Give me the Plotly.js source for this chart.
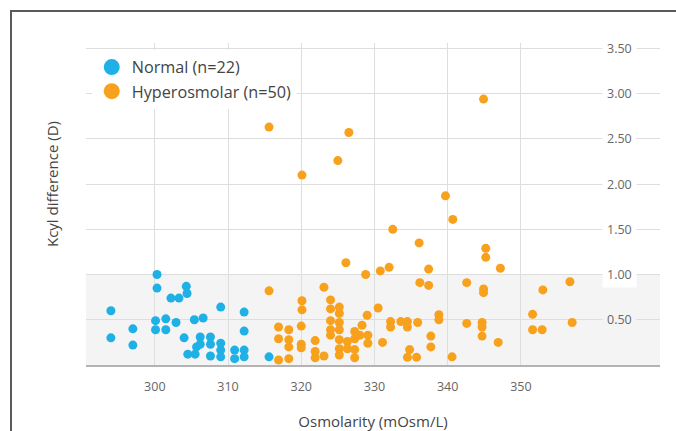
<!DOCTYPE html>
<html>
<head>
<meta charset="utf-8">
<script src="https://cdn.plot.ly/plotly-3.0.1.min.js"></script>
<style>
html,body{margin:0;padding:0;background:#fff;}
#frame{position:absolute;left:10px;top:10px;right:0;bottom:0;border-left:2px solid #5a5a5a;border-top:2px solid #5a5a5a;pointer-events:none;}
#chart{width:676px;height:431px;}
</style>
</head>
<body>
<div id="chart"></div>
<div id="frame"></div>
<script>
// Normal group (blue)
const normalX = [300.3, 300.3, 304.3, 304.4, 302.2, 303.3, 294.0, 309.0, 312.2, 300.1, 301.5, 302.9, 305.4, 306.6, 297.0, 300.1, 301.5, 312.2, 294.0, 297.0, 304.0, 306.2, 307.6, 306.2, 307.6, 305.7, 309.0, 309.0, 309.0, 304.5, 305.5, 307.6, 310.9, 312.2, 310.9, 312.2, 315.6];
const normalY = [1.00, 0.85, 0.87, 0.79, 0.74, 0.74, 0.60, 0.64, 0.585, 0.49, 0.51, 0.47, 0.50, 0.52, 0.40, 0.39, 0.39, 0.375, 0.30, 0.22, 0.30, 0.31, 0.31, 0.23, 0.23, 0.20, 0.24, 0.165, 0.09, 0.12, 0.12, 0.10, 0.165, 0.165, 0.07, 0.09, 0.09];

// Hyperosmolar group (orange)
const hyperX = [315.6, 326.5, 325.0, 320.1, 339.7, 340.7, 332.5, 336.1, 326.1, 328.8, 330.8, 332.0, 337.4, 336.2, 337.4, 315.6, 323.1, 320.1, 320.1, 324.0, 324.0, 325.2, 325.2, 330.5, 329.0, 338.8, 338.8, 324.0, 325.2, 325.2, 332.2, 332.2, 333.6, 334.5, 334.5, 335.9, 316.9, 318.3, 320.0, 324.0, 324.0, 328.3, 327.3, 327.3, 328.0, 329.1, 329.1, 316.9, 318.3, 318.3, 320.0, 320.0, 321.9, 321.9, 321.9, 323.1, 325.2, 325.2, 325.2, 326.3, 326.3, 327.3, 327.3, 331.1, 334.8, 334.5, 335.75, 337.7, 337.7, 316.9, 318.3, 340.6, 344.9, 345.2, 345.2, 347.2, 342.6, 344.9, 344.9, 356.7, 353.0, 351.6, 342.6, 344.7, 344.7, 344.7, 357.0, 351.6, 352.9, 346.9];
const hyperY = [2.63, 2.57, 2.26, 2.10, 1.87, 1.61, 1.50, 1.35, 1.13, 1.00, 1.04, 1.08, 1.06, 0.91, 0.88, 0.82, 0.86, 0.71, 0.61, 0.72, 0.62, 0.64, 0.57, 0.63, 0.55, 0.555, 0.50, 0.49, 0.47, 0.39, 0.48, 0.42, 0.48, 0.48, 0.42, 0.47, 0.42, 0.39, 0.43, 0.39, 0.33, 0.44, 0.37, 0.29, 0.33, 0.33, 0.24, 0.29, 0.28, 0.20, 0.23, 0.19, 0.27, 0.15, 0.08, 0.10, 0.28, 0.18, 0.11, 0.26, 0.18, 0.17, 0.08, 0.25, 0.17, 0.085, 0.085, 0.32, 0.20, 0.055, 0.07, 0.09, 2.94, 1.29, 1.19, 1.07, 0.91, 0.84, 0.80, 0.92, 0.83, 0.56, 0.46, 0.47, 0.42, 0.32, 0.47, 0.39, 0.39, 0.25];

const seriesNames = ["Normal (n=22)", "Hyperosmolar (n=50)"];
const xTicks = [300, 310, 320, 330, 340, 350];
const yTicks = [0.5, 1.0, 1.5, 2.0, 2.5, 3.0, 3.5];
const yTickLabels = ["0.50", "1.00", "1.50", "2.00", "2.50", "3.00", "3.50"];
const normalRange = [0, 1.0];
const yTitle = "Kcyl difference (D)";
const xTitle = "Osmolarity (mOsm/L)";

const BLUE = "#1fb0e6";
const ORANGE = "#f7a11c";
const SHADE = "#f4f4f4";
const FONT = "'Open Sans', sans-serif";

const traces = [
  {x: normalX, y: normalY, type: "scatter", mode: "markers", name: seriesNames[0], showlegend: false,
   marker: {color: BLUE, size: 9}, hoverinfo: "x+y"},
  {x: hyperX, y: hyperY, type: "scatter", mode: "markers", name: seriesNames[1], showlegend: false,
   marker: {color: ORANGE, size: 9}, hoverinfo: "x+y"},
  {x: [null], y: [null], type: "scatter", mode: "markers", name: seriesNames[0], legendgroup: "a",
   marker: {color: BLUE, size: 16}},
  {x: [null], y: [null], type: "scatter", mode: "markers", name: seriesNames[1], legendgroup: "b",
   marker: {color: ORANGE, size: 16}}
];

const annotations = yTicks.map((v, i) => ({
  x: 0.93, xref: "paper", y: v, yref: "y", text: yTickLabels[i], showarrow: false,
  xanchor: "center", yanchor: "middle",
  font: {family: FONT, size: 12.5, color: "#666"},
  bgcolor: v < normalRange[1] ? SHADE : "#ffffff", borderpad: 4
}));
annotations.push({
  x: -0.0592, xref: "paper", y: 0.562, yref: "paper", text: yTitle, showarrow: false,
  textangle: -90, xanchor: "center", yanchor: "middle",
  font: {family: FONT, size: 15, color: "#444"}
});

const layout = {
  width: 676, height: 431,
  margin: {l: 86, r: 16, t: 43, b: 66},
  paper_bgcolor: "#ffffff", plot_bgcolor: "#ffffff",
  font: {family: FONT, color: "#444"},
  showlegend: true,
  legend: {x: 0.01, y: 0.978, xanchor: "left", yanchor: "top", bgcolor: "#ffffff",
    font: {family: FONT, size: 16.2, color: "#444"}, traceorder: "grouped", tracegroupgap: 0,
    itemclick: false},
  xaxis: {range: [290.6, 369], tickvals: xTicks, ticktext: xTicks.map(String),
    showgrid: true, gridcolor: "#dedede", gridwidth: 1, zeroline: false,
    showline: true, linecolor: "#b3b3b3", linewidth: 2, ticks: "",
    ticklabelstandoff: 9,
    tickfont: {family: FONT, size: 12.5, color: "#666"},
    title: {text: xTitle, font: {family: FONT, size: 15, color: "#444"}, standoff: 22}},
  yaxis: {range: [0, 3.56], tickvals: yTicks, showticklabels: false,
    showgrid: true, gridcolor: "#dedede", gridwidth: 1, zeroline: false, showline: false, ticks: ""},
  shapes: [{type: "rect", xref: "paper", x0: 0, x1: 1, yref: "y", y0: normalRange[0], y1: normalRange[1],
    fillcolor: SHADE, line: {width: 0}, layer: "below"}],
  annotations: annotations
};

Plotly.newPlot("chart", traces, layout, {displayModeBar: false, staticPlot: true});
</script>
</body>
</html>
